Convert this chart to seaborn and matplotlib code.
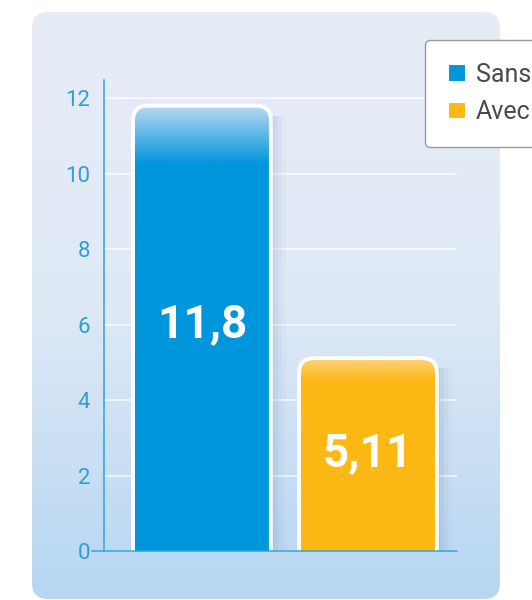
import numpy as np
import pandas as pd
import matplotlib
matplotlib.use("Agg")
import matplotlib.pyplot as plt
import seaborn as sns
from matplotlib.patches import FancyBboxPatch, Patch
from matplotlib.colors import LinearSegmentedColormap

# data
categories = ["Sans", "Avec"]
values = [11.8, 5.11]
value_labels = ["11,8", "5,11"]
bar_colors = ["#0096db", "#fdb814"]
bar_tops = ["#b8d9f2", "#fdd27a"]
yticks = [0, 2, 4, 6, 8, 10, 12]

sns.set_style("white")
plt.rcParams["font.family"] = ["Roboto", "DejaVu Sans"]

W, H = 532, 600
fig = plt.figure(figsize=(W / 100, H / 100), dpi=100)
fig.patch.set_facecolor("white")

# rounded gradient panel behind the chart
bg = fig.add_axes([0, 0, 1, 1], zorder=-1)
bg.set_xlim(0, W)
bg.set_ylim(H, 0)
bg.axis("off")
panel = FancyBboxPatch((32, 12), 468, 587, boxstyle="round,pad=0,rounding_size=16",
                       facecolor="none", edgecolor="none")
bg.add_patch(panel)
cmap_bg = LinearSegmentedColormap.from_list("bg", ["#e7edf7", "#dfe9f6", "#b6d6f2"])
im = bg.imshow(np.linspace(0, 1, 256).reshape(-1, 1), cmap=cmap_bg,
               extent=(32, 500, 599, 12), aspect="auto")
im.set_clip_path(panel)

# main axes
ax = fig.add_axes([104 / W, 1 - 551 / H, (457 - 104) / W, (551 - 80) / H])
ax.set_facecolor("none")

df = pd.DataFrame({"cat": categories, "val": values})
sns.barplot(data=df, x="cat", y="val", hue="cat", palette=bar_colors,
            width=0.83, legend=False, ax=ax, zorder=3)

XL, YL = (-0.59, 1.536), (0, 12.48)
ax.set_xlim(*XL)
ax.set_ylim(*YL)

# data units per pixel, for rounded corners
xpp = (XL[1] - XL[0]) / (457 - 104)
ypp = YL[1] / (551 - 80)

for i, p in enumerate(list(ax.patches)):
    x0, w, h = p.get_x(), p.get_width(), p.get_height()
    p.set_visible(False)
    # soft shadow on the right
    for k, a in enumerate([0.10, 0.07, 0.05, 0.03]):
        sh = FancyBboxPatch((x0 + w, 0), (3 + 4 * k) * xpp, h - 10 * ypp,
                            boxstyle="square,pad=0", facecolor="#5a7fa8",
                            edgecolor="none", alpha=a, zorder=2)
        ax.add_patch(sh)
    style = "round,pad=0,rounding_size=%f" % (15 * xpp)
    bar = FancyBboxPatch((x0, -20 * ypp), w, h + 20 * ypp, boxstyle=style,
                         mutation_aspect=ypp / xpp, facecolor=bar_colors[i],
                         edgecolor="none", zorder=3)
    ax.add_patch(bar)
    stop = 0.13 if i == 0 else 0.12
    cm = LinearSegmentedColormap.from_list(
        "b%d" % i, [(0, bar_tops[i]), (stop, bar_colors[i]), (1, bar_colors[i])])
    gi = ax.imshow(np.linspace(0, 1, 256).reshape(-1, 1), cmap=cm, aspect="auto",
                   origin="upper", extent=(x0, x0 + w, 0, h), zorder=3.5)
    gi.set_clip_path(bar)
    edge = FancyBboxPatch((x0, -20 * ypp), w, h + 20 * ypp, boxstyle=style,
                          mutation_aspect=ypp / xpp, facecolor="none",
                          edgecolor="white", linewidth=2.8, zorder=4)
    ax.add_patch(edge)
    ax.text(x0 + w / 2, h * 0.51, value_labels[i], ha="center", va="center",
            color="white", fontsize=33, fontweight="bold", zorder=5)

ax.set_xlim(*XL)
ax.set_ylim(*YL)

ax.set_yticks(yticks)
ax.set_yticklabels([str(t) for t in yticks])
ax.yaxis.grid(True, color="white", linewidth=1.2, alpha=0.75, zorder=0)
ax.set_axisbelow(True)
ax.set_xticks([])
ax.set_xlabel("")
ax.set_ylabel("")
for s in ["top", "right"]:
    ax.spines[s].set_visible(False)
axis_col = "#2aa7da"
for s in ["left", "bottom"]:
    ax.spines[s].set_color(axis_col)
    ax.spines[s].set_linewidth(1.1)
    ax.spines[s].set_zorder(6)
ax.spines["bottom"].set_bounds(XL[0] - 0.07, XL[1])
ax.tick_params(axis="y", direction="out", length=7, width=1.1, color=axis_col,
               labelcolor="#2f9fd6", labelsize=16, pad=3)

handles = [Patch(facecolor=c, edgecolor="white", linewidth=1.5) for c in bar_colors]
leg = fig.legend(handles, categories, loc="upper left",
                 bbox_to_anchor=(425 / W, 1 - 40 / H), bbox_transform=fig.transFigure,
                 borderaxespad=0, fontsize=18, handlelength=0.72, handleheight=0.72,
                 handletextpad=0.42, labelspacing=0.55, borderpad=0.9,
                 frameon=True, fancybox=True, labelcolor="#4a4a4a")
fr = leg.get_frame()
fr.set_edgecolor("#9a9a9a")
fr.set_linewidth(1.0)
fr.set_facecolor("white")
fr.set_alpha(1)

fig.savefig("out.png", dpi=100)
